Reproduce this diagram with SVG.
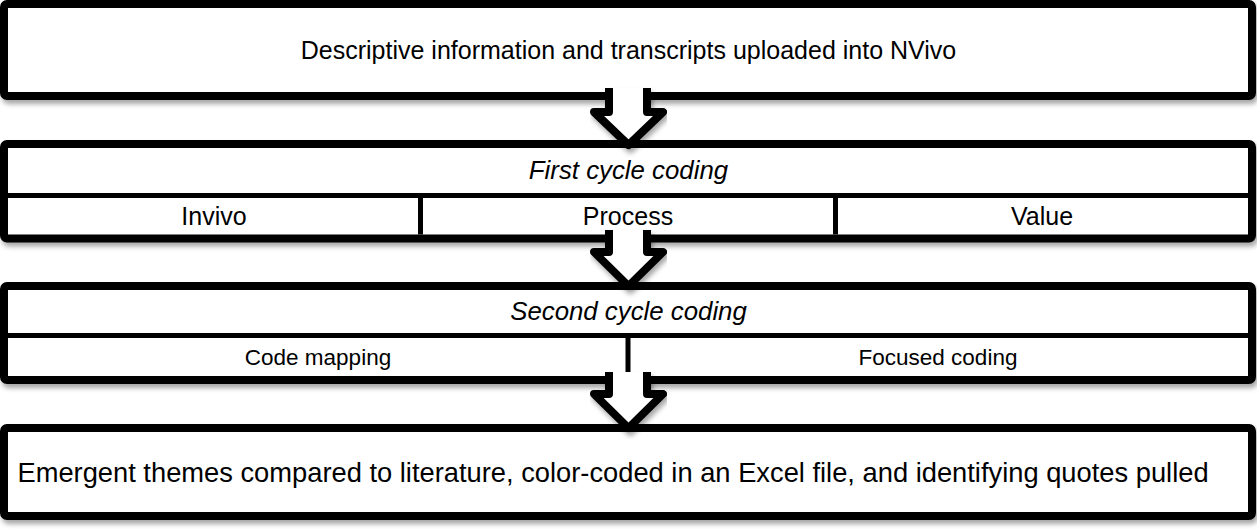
<svg xmlns="http://www.w3.org/2000/svg" width="1257" height="529" viewBox="0 0 1257 529">
  <defs>
    <filter id="shadow" x="-5%" y="-20%" width="110%" height="150%">
      <feDropShadow dx="2" dy="4" stdDeviation="2.5" flood-color="#000" flood-opacity="0.35"/>
    </filter>
    <style>
      .frame { fill: #fff; stroke: #000; stroke-width: 8; stroke-linejoin: round; }
      .rule { stroke: #000; stroke-width: 5; fill: none; }
      .arrow { fill: #fff; stroke: #000; stroke-width: 8; stroke-linejoin: round; stroke-linecap: butt; }
      text { font-family: "Liberation Sans", Arial, sans-serif; font-size: 25px; fill: #000; text-anchor: middle; dominant-baseline: central; }
      .head { font-style: italic; font-size: 25.8px; }
      .small { font-size: 22.5px; }
      .big { font-size: 27.3px; }
    </style>
  </defs>
  <rect width="1257" height="529" fill="#fff"/>

  <!-- Step 1: import -->
  <g id="step-import">
    <rect class="frame" x="4" y="4" width="1248" height="92" rx="3" filter="url(#shadow)"/>
    <text x="628.5" y="50">Descriptive information and transcripts uploaded into NVivo</text>
  </g>

  <!-- Step 2: first cycle coding -->
  <g id="step-first-cycle">
    <rect class="frame" x="4" y="144" width="1248" height="94.5" rx="3" filter="url(#shadow)"/>
    <line class="rule" x1="8" y1="195.5" x2="1248" y2="195.5"/>
    <line class="rule" x1="420.5" y1="195.5" x2="420.5" y2="234.5"/>
    <line class="rule" x1="835.5" y1="195.5" x2="835.5" y2="234.5"/>
    <text class="head" x="628.5" y="170">First cycle coding</text>
    <text x="214" y="216">Invivo</text>
    <text x="628" y="216">Process</text>
    <text x="1042" y="216">Value</text>
  </g>

  <!-- Step 3: second cycle coding -->
  <g id="step-second-cycle">
    <rect class="frame" x="4" y="286" width="1248" height="94" rx="3" filter="url(#shadow)"/>
    <line class="rule" x1="8" y1="335.5" x2="1248" y2="335.5"/>
    <line class="rule" x1="628" y1="335.5" x2="628" y2="376"/>
    <text class="head" x="628.5" y="311">Second cycle coding</text>
    <text class="small" x="318" y="357">Code mapping</text>
    <text class="small" x="938" y="357">Focused coding</text>
  </g>

  <!-- Step 4: themes -->
  <g id="step-themes">
    <rect class="frame" x="4" y="428" width="1248" height="88" rx="3" filter="url(#shadow)"/>
    <text class="big" x="613" y="472">Emergent themes compared to literature, color-coded in an Excel file, and identifying quotes pulled</text>
  </g>

  <!-- Flow arrows between steps -->
  <g id="connectors" filter="url(#shadow)">
    <path class="arrow" d="M609,88 L609,112 L594,112 L628.5,145 L663,112 L647,112 L647,88"/>
    <path class="arrow" d="M609,230 L609,252 L594,252 L628.5,286 L663,252 L647,252 L647,230"/>
    <path class="arrow" d="M609,372 L609,394 L594,394 L628.5,428 L663,394 L647,394 L647,372"/>
  </g>
</svg>
